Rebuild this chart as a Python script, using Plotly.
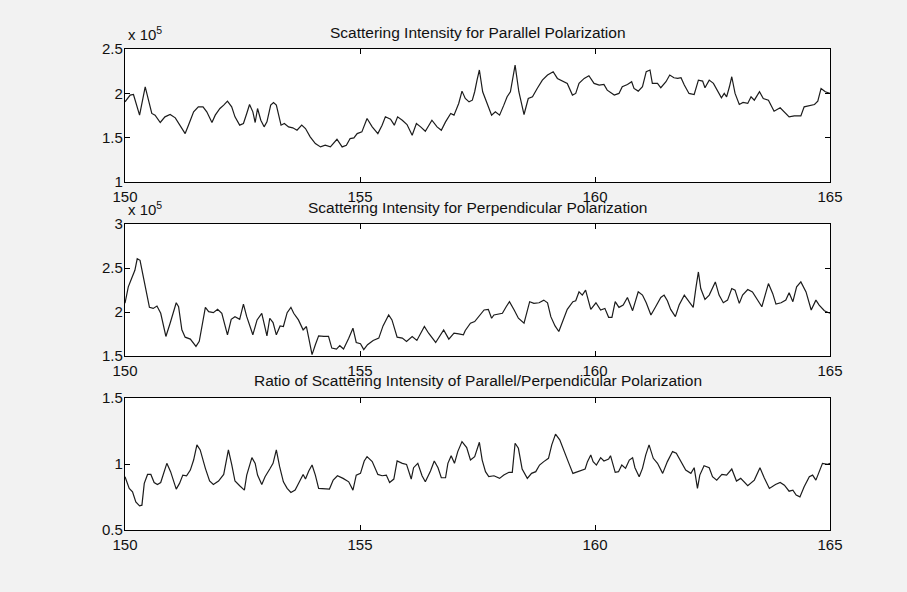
import plotly.graph_objects as go

# Scattering intensity, parallel polarization (units of 1e5)
par_x = [150.00,150.11,150.18,150.31,150.43,150.57,150.64,150.75,150.85,150.96,151.07,151.17,151.28,151.35,151.46,151.56,151.66,151.74,151.85,151.92,
         152.02,152.10,152.18,152.27,152.34,152.44,152.52,152.59,152.65,152.72,152.77,152.82,152.89,152.96,153.02,153.10,153.16,153.22,153.32,153.39,
         153.48,153.57,153.66,153.76,153.84,153.94,154.05,154.16,154.26,154.37,154.51,154.62,154.71,154.79,154.87,154.94,155.04,155.15,155.26,155.38,
         155.47,155.54,155.65,155.73,155.80,155.90,156.00,156.11,156.20,156.29,156.39,156.53,156.64,156.73,156.82,156.93,157.00,157.10,157.17,157.24,
         157.32,157.39,157.44,157.49,157.54,157.61,157.71,157.80,157.88,157.97,158.06,158.13,158.20,158.30,158.38,158.49,158.58,158.67,158.77,158.88,
         158.99,159.11,159.20,159.32,159.41,159.52,159.59,159.66,159.77,159.87,159.98,160.09,160.19,160.26,160.41,160.51,160.58,160.69,160.78,160.83,
         160.92,161.01,161.09,161.17,161.22,161.33,161.40,161.51,161.59,161.68,161.76,161.83,161.90,162.00,162.11,162.20,162.29,162.34,162.43,162.52,
         162.61,162.69,162.75,162.80,162.86,162.91,162.98,163.07,163.15,163.25,163.32,163.39,163.50,163.58,163.69,163.81,163.94,164.03,164.13,164.24,
         164.38,164.45,164.56,164.67,164.74,164.81,164.90,165.00]
par_y = [1.904,1.980,1.987,1.754,2.074,1.773,1.754,1.671,1.735,1.761,1.724,1.641,1.546,1.641,1.791,1.848,1.848,1.791,1.671,1.754,
         1.829,1.867,1.912,1.848,1.735,1.641,1.660,1.773,1.874,1.791,1.671,1.829,1.697,1.622,1.678,1.867,1.897,1.867,1.641,1.660,
         1.622,1.611,1.584,1.641,1.603,1.509,1.433,1.396,1.415,1.396,1.482,1.396,1.415,1.490,1.497,1.546,1.565,1.716,1.622,1.546,
         1.641,1.735,1.708,1.641,1.735,1.697,1.648,1.528,1.660,1.622,1.573,1.697,1.622,1.584,1.678,1.773,1.754,1.886,2.025,1.942,
         1.904,1.923,2.018,2.150,2.263,2.018,1.867,1.754,1.791,1.754,1.867,1.961,2.018,2.319,2.018,1.761,1.942,1.961,2.055,2.149,
         2.206,2.244,2.168,2.131,2.112,1.980,1.999,2.112,2.168,2.198,2.112,2.093,2.100,2.036,1.980,1.999,2.074,2.100,2.131,2.055,
         2.025,2.074,2.244,2.263,2.112,2.112,2.063,2.131,2.206,2.176,2.168,2.176,2.093,1.999,1.987,2.149,2.138,2.063,2.149,2.112,
         2.018,1.950,1.999,1.961,2.074,2.187,1.999,1.874,1.897,1.886,1.961,1.923,2.018,1.942,1.923,1.799,1.837,1.791,1.735,1.746,
         1.746,1.848,1.859,1.874,1.912,2.055,2.018,1.999]

# Scattering intensity, perpendicular polarization (units of 1e5)
perp_x = [150.00,150.07,150.14,150.21,150.26,150.32,150.39,150.46,150.52,150.60,150.68,150.76,150.87,150.96,151.03,151.09,151.14,151.21,151.28,151.39,
          151.51,151.58,151.71,151.78,151.88,151.97,152.06,152.18,152.26,152.34,152.44,152.52,152.59,152.72,152.81,152.91,153.02,153.08,153.15,153.22,
          153.30,153.37,153.45,153.53,153.59,153.69,153.79,153.86,153.91,153.98,154.05,154.12,154.23,154.33,154.40,154.50,154.57,154.65,154.76,154.85,
          154.92,155.01,155.08,155.16,155.28,155.40,155.49,155.61,155.68,155.79,155.90,155.99,156.11,156.21,156.37,156.46,156.61,156.78,156.89,157.00,
          157.10,157.20,157.24,157.35,157.44,157.53,157.64,157.73,157.80,157.85,157.96,158.03,158.11,158.18,158.28,158.37,158.49,158.56,158.61,158.70,
          158.81,158.91,158.99,159.06,159.15,159.23,159.32,159.41,159.53,159.59,159.66,159.73,159.80,159.91,160.02,160.12,160.21,160.29,160.36,160.43,
          160.51,160.60,160.69,160.80,160.92,161.01,161.09,161.19,161.29,161.40,161.47,161.54,161.61,161.71,161.79,161.90,162.00,162.09,162.15,162.20,
          162.25,162.34,162.43,162.56,162.64,162.73,162.82,162.91,162.98,163.07,163.14,163.25,163.35,163.46,163.55,163.62,163.69,163.78,163.85,163.96,
          164.06,164.13,164.21,164.29,164.38,164.49,164.60,164.70,164.77,164.88,165.00]
perp_y = [2.100,2.286,2.380,2.474,2.605,2.587,2.399,2.229,2.053,2.041,2.068,1.985,1.722,1.872,1.992,2.105,2.060,1.797,1.714,1.692,
          1.609,1.666,2.053,2.004,1.992,2.030,1.985,1.741,1.917,1.947,1.917,2.090,1.947,1.741,1.910,1.985,1.729,1.929,1.880,1.741,
          1.842,1.835,1.992,2.053,1.985,1.910,1.797,1.835,1.703,1.515,1.628,1.729,1.722,1.722,1.590,1.579,1.617,1.579,1.703,1.816,
          1.654,1.639,1.572,1.628,1.677,1.703,1.842,1.966,1.910,1.714,1.703,1.666,1.722,1.677,1.835,1.759,1.654,1.797,1.692,1.759,
          1.752,1.741,1.790,1.872,1.891,1.947,2.023,2.030,1.929,1.966,1.974,1.985,2.060,2.117,2.023,1.929,1.872,2.004,2.117,2.098,
          2.105,2.135,2.105,1.947,1.842,1.778,1.910,2.030,2.117,2.128,2.229,2.192,2.248,2.030,2.105,2.023,2.041,1.940,1.940,2.117,
          2.053,2.079,2.165,2.015,2.229,2.192,2.105,1.966,2.060,2.165,2.192,2.128,2.030,1.947,2.079,2.192,2.117,2.053,2.286,2.455,
          2.267,2.143,2.192,2.342,2.192,2.105,2.135,2.267,2.248,2.098,2.192,2.256,2.229,2.135,2.060,2.192,2.323,2.211,2.090,2.105,
          2.135,2.218,2.117,2.286,2.342,2.229,2.023,2.135,2.079,2.015,1.985]

# Ratio parallel / perpendicular
ratio_x = [150.00,150.09,150.16,150.23,150.31,150.36,150.41,150.48,150.55,150.62,150.69,150.76,150.89,150.97,151.09,151.16,151.23,151.31,151.39,151.46,
           151.53,151.60,151.71,151.80,151.88,151.99,152.10,152.20,152.27,152.34,152.44,152.54,152.59,152.70,152.77,152.82,152.91,152.98,153.08,153.15,
           153.22,153.29,153.37,153.45,153.53,153.62,153.73,153.79,153.84,153.91,153.98,154.05,154.12,154.24,154.35,154.43,154.52,154.64,154.76,154.85,
           154.92,155.01,155.09,155.15,155.26,155.38,155.47,155.56,155.63,155.72,155.79,155.90,155.99,156.09,156.14,156.23,156.32,156.39,156.50,156.58,
           156.66,156.73,156.82,156.87,156.94,157.01,157.08,157.17,157.27,157.35,157.44,157.54,157.60,157.67,157.74,157.85,157.97,158.06,158.17,158.24,
           158.30,158.37,158.45,158.56,158.65,158.74,158.82,158.91,159.01,159.08,159.16,159.25,159.32,159.43,159.53,159.66,159.79,159.84,159.91,159.96,
           160.03,160.12,160.19,160.29,160.33,160.43,160.50,160.57,160.65,160.73,160.80,160.85,160.94,161.01,161.08,161.15,161.24,161.33,161.44,161.54,
           161.65,161.73,161.83,161.93,162.04,162.11,162.18,162.23,162.32,162.43,162.50,162.59,162.70,162.80,162.91,162.96,163.01,163.10,163.25,163.39,
           163.51,163.60,163.71,163.84,163.94,164.03,164.13,164.21,164.28,164.36,164.45,164.56,164.63,164.70,164.77,164.84,164.95,165.00]
ratio_y = [0.904,0.815,0.789,0.713,0.683,0.688,0.853,0.921,0.921,0.860,0.845,0.860,1.005,0.942,0.810,0.853,0.916,0.911,0.954,1.030,
           1.145,1.107,0.967,0.871,0.845,0.871,0.921,1.107,0.997,0.871,0.835,0.802,0.916,1.048,1.005,0.916,0.845,0.904,0.962,1.005,
           1.107,0.980,0.865,0.815,0.784,0.802,0.878,0.921,0.886,0.947,0.992,0.916,0.815,0.815,0.810,0.878,0.911,0.891,0.865,0.802,
           0.916,0.929,1.023,1.056,1.018,0.921,0.911,0.916,0.860,0.886,1.023,1.005,0.997,0.886,0.972,1.005,0.911,0.865,0.947,1.023,
           0.972,0.896,0.896,1.005,1.063,1.005,1.094,1.170,1.124,1.030,1.056,1.165,1.030,0.942,0.904,0.911,0.891,0.916,0.937,0.937,
           1.157,1.119,0.962,0.891,0.929,0.942,0.992,1.018,1.043,1.145,1.226,1.183,1.114,1.018,0.929,0.947,0.962,1.018,1.069,1.018,
           0.992,1.048,1.023,1.038,1.063,0.937,0.942,0.992,0.967,1.030,1.048,0.972,0.904,0.967,1.069,1.145,1.043,1.005,0.929,1.018,
           1.094,1.081,1.018,0.954,0.929,0.972,0.815,0.916,0.987,0.972,0.904,0.878,0.921,0.916,0.962,0.916,0.871,0.891,0.835,0.878,
           0.972,0.896,0.815,0.845,0.860,0.840,0.794,0.802,0.764,0.751,0.827,0.904,0.916,0.878,0.947,1.005,0.997,1.005]

x_ticks = [150, 155, 160, 165]
titles = ["Scattering Intensity for Parallel Polarization",
          "Scattering Intensity for Perpendicular Polarization",
          "Ratio of Scattering Intensity of Parallel/Perpendicular Polarization"]

W, H = 907, 592
FONT = "Liberation Sans, Arial, sans-serif"
line = dict(color="#1c1c1c", width=1.2)

fig = go.Figure()
fig.add_trace(go.Scatter(x=par_x, y=par_y, mode="lines", line=line, xaxis="x", yaxis="y"))
fig.add_trace(go.Scatter(x=perp_x, y=perp_y, mode="lines", line=line, xaxis="x2", yaxis="y2"))
fig.add_trace(go.Scatter(x=ratio_x, y=ratio_y, mode="lines", line=line, xaxis="x3", yaxis="y3"))

xdom = [125 / W, 830 / W]
panels = [(49, 182), (224, 356), (398, 530)]
ydoms = [[1 - b / H, 1 - t / H] for t, b in panels]

common = dict(showline=True, linecolor="black", linewidth=1.4, mirror="ticks",
              ticks="inside", ticklen=5, tickwidth=1.2, tickcolor="black",
              showgrid=False, zeroline=False, automargin=False,
              tickfont=dict(family=FONT, size=15, color="#111"))

yranges = [[1, 2.5], [1.5, 3], [0.5, 1.5]]
yticks = [[1, 1.5, 2, 2.5], [1.5, 2, 2.5, 3], [0.5, 1, 1.5]]

layout = dict(template="none", width=W, height=H, autosize=False,
              margin=dict(l=0, r=0, t=0, b=0, pad=0, autoexpand=False),
              paper_bgcolor="#f2f2f2", plot_bgcolor="white", showlegend=False)
for i in range(3):
    sx = "" if i == 0 else str(i + 1)
    layout["xaxis" + sx] = dict(common, domain=xdom, range=[150, 165], tickvals=x_ticks,
                                anchor="y" + sx, ticklabelstandoff=1)
    layout["yaxis" + sx] = dict(common, domain=ydoms[i], range=yranges[i], tickvals=yticks[i],
                                anchor="x" + sx, ticklabelstandoff=-2)
fig.update_layout(**layout)

ann = []
title_y = [33, 207, 381]
for t, ty in zip(titles, title_y):
    ann.append(dict(text=t, x=477.5 / W, y=1 - ty / H, xref="paper", yref="paper",
                    xanchor="center", yanchor="middle", showarrow=False,
                    font=dict(family=FONT, size=15.5, color="#111")))
for t, b in panels[:2]:
    ann.append(dict(text="x 10<sup>5</sup>", x=126 / W, y=1 - (t - 4) / H, xref="paper", yref="paper",
                    xanchor="left", yanchor="bottom", showarrow=False,
                    font=dict(family=FONT, size=15, color="#111")))
fig.update_layout(annotations=ann)

fig.write_html("out.html")
